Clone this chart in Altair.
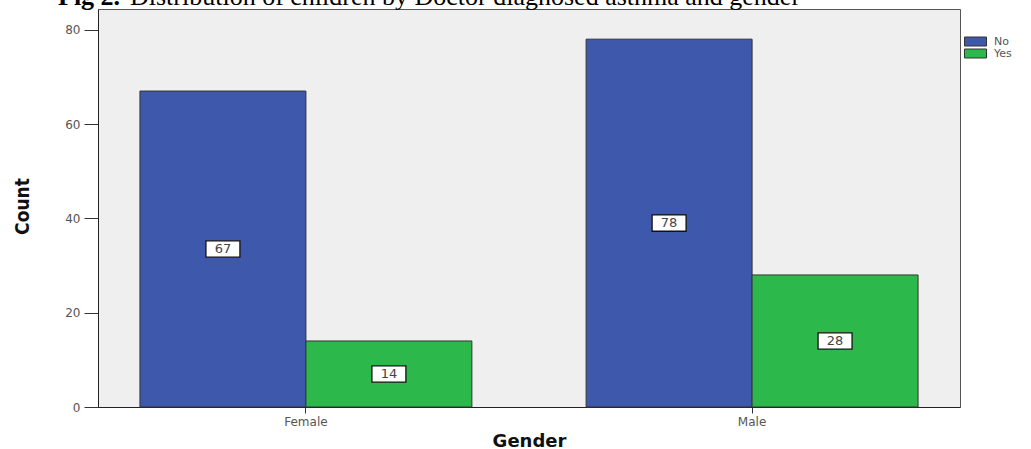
import altair as alt
import pandas as pd

# ---- data ----
genders = ["Female", "Female", "Male", "Male"]
asthma = ["No", "Yes", "No", "Yes"]
counts = [67, 14, 78, 28]
legend_labels = ["No", "Yes"]
bar_colors = ["#3E58AB", "#2DB84B"]
y_ticks = [0, 20, 40, 60, 80]
title_bold = "Fig 2."
title_rest = "Distribution of children by Doctor diagnosed asthma and gender"

df = pd.DataFrame({"Gender": genders, "Asthma": asthma, "Count": counts})

W, H = 862, 398

x_enc = alt.X(
    "Gender:N",
    scale=alt.Scale(paddingInner=0.256, paddingOuter=0.094),
    axis=alt.Axis(
        title="Gender", labelAngle=0, tickSize=6, tickColor="#333",
        domainColor="#222", labelFont="DejaVu Sans", labelFontSize=12,
        labelColor="#555", labelPadding=3, titleFont="DejaVu Sans",
        titleFontSize=18, titleFontWeight="bold", titleColor="#111",
        titleBaseline="alphabetic", titleY=39,
    ),
)
xoff = alt.XOffset("Asthma:N", scale=alt.Scale(paddingInner=0, paddingOuter=0))
y_enc = alt.Y(
    "Count:Q",
    scale=alt.Scale(domain=[0, 84.4], nice=False, zero=True),
    axis=alt.Axis(
        values=y_ticks, grid=False, tickSize=14, tickColor="#333",
        domainColor="#222", labelFont="DejaVu Sans", labelFontSize=12,
        labelColor="#555", labelPadding=4, title="Count",
        titleFont="'DejaVu Sans Condensed', sans-serif",
        titleFontSize=19, titleFontWeight="bold", titleColor="#111",
        titleAngle=270, titleAlign="center", titleBaseline="bottom",
        titleX=-66, titleY=197,
    ),
)
color_enc = alt.Color(
    "Asthma:N",
    scale=alt.Scale(domain=legend_labels, range=bar_colors),
    legend=alt.Legend(
        orient="none", legendX=872, legendY=27, title=None,
        symbolType="M-2.2,-0.9L2.2,-0.9L2.2,0.9L-2.2,0.9Z", symbolSize=100,
        symbolStrokeColor="#333", symbolStrokeWidth=1,
        labelFont="DejaVu Sans", labelFontSize=11, labelColor="#555",
        rowPadding=-3, labelOffset=13,
    ),
)

base = alt.Chart(df)

bars = base.mark_bar(stroke="#333", strokeWidth=1).encode(
    x=x_enc, xOffset=xoff, y=y_enc, color=color_enc
)

boxes = base.transform_calculate(mid="datum.Count / 2").mark_point(
    shape="M-1,-0.48L1,-0.48L1,0.48L-1,0.48Z", size=1156, filled=True,
    fill="white", stroke="#111", strokeWidth=1.3, opacity=1,
).encode(x="Gender:N", xOffset="Asthma:N", y="mid:Q")

labels = base.transform_calculate(mid="datum.Count / 2").mark_text(
    font="DejaVu Sans", fontSize=13, color="#444", baseline="middle"
).encode(x="Gender:N", xOffset="Asthma:N", y="mid:Q", text="Count:Q")

t1 = alt.Chart(pd.DataFrame({"t": [title_bold]})).mark_text(
    align="left", baseline="alphabetic", font="Liberation Serif",
    fontSize=26, fontWeight="bold", color="#000"
).encode(x=alt.value(-40), y=alt.value(-4), text="t:N")

t2 = alt.Chart(pd.DataFrame({"t": [title_rest]})).mark_text(
    align="left", baseline="alphabetic", font="Liberation Serif",
    fontSize=26, color="#000"
).encode(x=alt.value(32), y=alt.value(-4), text="t:N")

chart = alt.layer(bars, boxes, labels, t1, t2).properties(
    width=W, height=H,
    autosize=alt.AutoSizeParams(type="none"),
    padding={"left": 98, "top": 9, "right": 71, "bottom": 42},
    background="white",
).configure_view(stroke="#555", strokeWidth=1, fill="#EFEFEF")

chart.save("out.html", embed_options={"renderer": "svg", "actions": False})
